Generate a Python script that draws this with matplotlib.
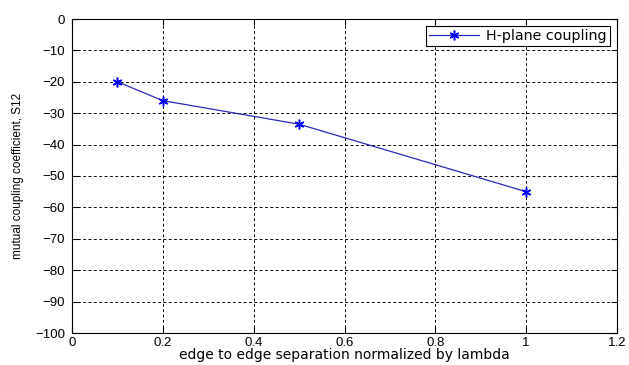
import matplotlib
matplotlib.use('Agg')
import matplotlib.pyplot as plt

# edge-to-edge separation (normalized by lambda) and coupling in dB
separation = [0.1, 0.2, 0.5, 1.0]
coupling = [-20, -26, -33.5, -55]

x_ticks = [0, 0.2, 0.4, 0.6, 0.8, 1.0, 1.2]
x_tick_labels = ['0', '0.2', '0.4', '0.6', '0.8', '1', '1.2']
y_ticks = list(range(-100, 1, 10))

plt.rcParams['font.family'] = ['Liberation Sans', 'DejaVu Sans']

fig = plt.figure(figsize=(6.29, 3.65), dpi=100)
ax = fig.add_axes([72 / 629, 1 - 333 / 365, 545 / 629, 314 / 365])

# matlab-style '*' marker: six-armed asterisk
ax.plot(separation, coupling, color='#2a2ab8', linewidth=0.9, marker=(6, 2, 0),
        markersize=7, markeredgecolor='#0000ff', markeredgewidth=1.1,
        label='H-plane coupling')

ax.set_xlim(0, 1.2)
ax.set_ylim(-100, 0)
ax.set_xticks(x_ticks)
ax.set_xticklabels(x_tick_labels)
ax.set_yticks(y_ticks)
ax.tick_params(direction='in', top=True, right=True, labelsize=9.5, length=4,
               width=0.8)
ax.tick_params(axis='y', pad=5)
ax.tick_params(axis='x', pad=3)
ax.grid(True, color='black', linestyle=(0, (3, 2.5)), linewidth=0.7)
for s in ax.spines.values():
    s.set_linewidth(0.8)

ax.set_xlabel('edge to edge separation normalized by lambda', fontsize=10,
              family='DejaVu Sans', labelpad=-1)
ax.set_ylabel('mutual coupling coefficient, S12', fontsize=8.5, labelpad=8)

leg = ax.legend(loc='upper right', prop={'family': 'DejaVu Sans', 'size': 10.3},
                fancybox=False, framealpha=1, edgecolor='black',
                borderaxespad=0.5, handlelength=3.5, borderpad=0.2,
                handletextpad=0.5)
leg.get_frame().set_linewidth(0.8)

fig.savefig('out.png', dpi=100)
plt.close()
